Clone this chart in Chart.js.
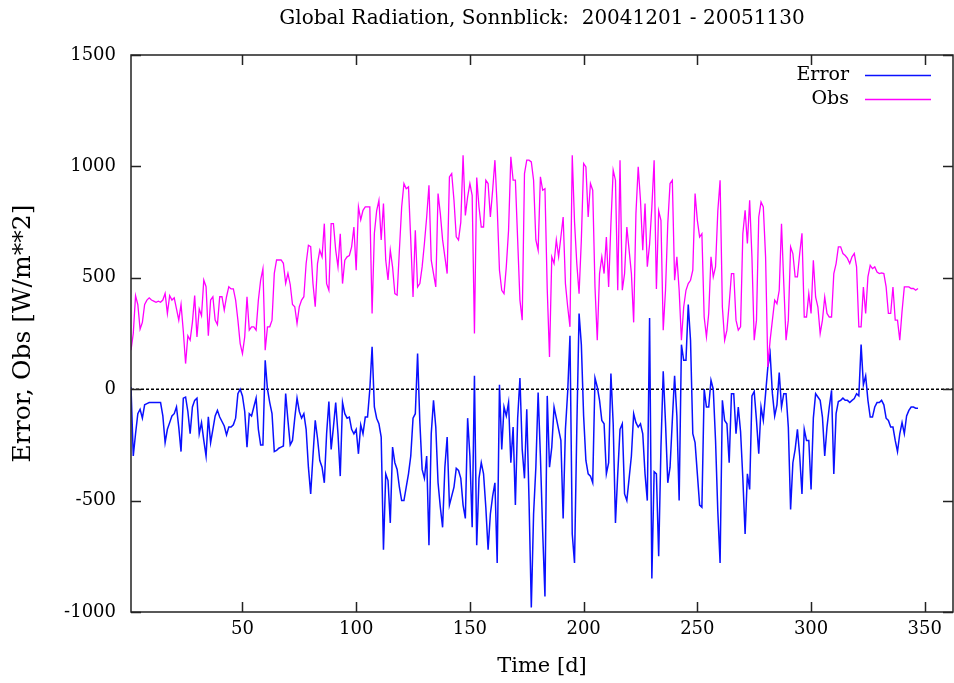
<!DOCTYPE html>
<html><head><meta charset="utf-8">
<script src="https://cdn.jsdelivr.net/npm/chart.js@4.4.0/dist/chart.umd.min.js"></script>
<style>html,body{margin:0;padding:0;background:#fff;}canvas{display:block;}</style>
</head><body>
<canvas id="c" width="954" height="683"></canvas>
<script>
// ---- data ----
const titleText = 'Global Radiation, Sonnblick:  20041201 - 20051130';
const seriesNames = ['Error', 'Obs'];
const xTickValues = [50, 100, 150, 200, 250, 300, 350];
const yTickValues = [-1000, -500, 0, 500, 1000, 1500];

const obs = [
175,250,420,380,270,300,380,400,410,400,395,390,395,390,400,430,340,420,400,410,
360,310,380,260,115,240,220,300,420,235,360,330,490,460,240,400,415,310,290,415,
415,355,415,460,450,450,400,310,205,160,235,415,265,280,280,265,400,490,541,175,
280,280,310,520,580,580,580,565,475,520,470,380,370,295,370,400,415,564,646,640,
475,370,564,624,594,743,474,444,743,743,624,549,698,474,579,594,600,639,728,534,
818,760,803,818,818,818,340,700,800,848,670,833,579,490,624,549,429,422,624,818,
923,900,908,670,414,713,459,474,549,654,773,915,579,519,459,878,788,670,594,519,
953,968,848,684,670,750,1050,780,863,923,870,250,950,818,728,728,938,923,773,893,
1028,818,534,444,429,549,713,1043,938,938,670,400,310,968,1028,1028,1020,938,670,624,
953,893,900,450,145,594,564,670,594,683,773,474,369,280,1050,750,564,429,670,1013,
998,773,923,893,459,220,519,594,519,683,459,743,983,938,444,1028,444,519,728,624,
520,300,788,998,848,624,833,550,650,818,1028,450,800,758,265,444,743,923,938,489,
594,444,220,369,444,474,489,534,878,758,683,698,324,235,340,594,504,550,800,938,
369,220,265,384,519,519,310,265,280,698,803,654,848,594,220,310,773,840,818,594,
100,220,310,400,384,444,743,474,220,310,639,609,504,504,609,700,324,324,429,340,
579,414,369,250,310,414,340,324,324,519,564,639,639,609,600,587,564,594,609,549,
280,280,459,340,504,556,541,549,526,519,522,519,459,340,340,459,310,310,220,350,
459,459,459,452,452,444,452
];

const err = [
10,-300,-200,-110,-90,-130,-70,-65,-60,-60,-60,-60,-60,-60,-120,-240,-180,-150,-120,-110,
-80,-170,-280,-40,-35,-100,-200,-80,-50,-40,-200,-150,-230,-300,-124,-240,-180,-120,-95,-125,
-145,-165,-205,-170,-170,-160,-130,-20,0,-30,-100,-260,-110,-120,-80,-40,-180,-250,-250,130,
0,-60,-110,-280,-275,-265,-260,-255,-20,-140,-250,-230,-130,-40,-100,-130,-110,-180,-350,-470,
-300,-140,-220,-320,-350,-420,-200,-55,-270,-170,-60,-200,-390,-60,-110,-130,-125,-180,-200,-180,
-290,-160,-200,-125,-125,0,190,-80,-130,-155,-215,-720,-380,-410,-600,-260,-330,-360,-440,-500,
-500,-440,-380,-300,-130,-110,160,-150,-360,-400,-300,-700,-200,-50,-170,-420,-530,-620,-350,-215,
-520,-480,-440,-355,-365,-400,-520,-580,-130,-300,-620,60,-700,-400,-330,-380,-530,-720,-560,-480,
-420,-780,20,-270,-80,-120,-60,-330,-170,-520,-130,50,-270,-400,-90,-500,-980,-560,-350,-15,
-300,-640,-930,-30,-350,-260,-80,-130,-180,-230,-580,-180,-10,240,-650,-780,-180,340,200,-120,
-320,-380,-390,-420,50,10,-50,-140,-155,-380,-330,70,-155,-600,-380,-180,-155,-470,-500,-400,
-300,-110,-150,-170,-155,-200,-380,-500,320,-850,-370,-380,-750,-260,80,-150,-420,-350,-140,60,
-120,-500,200,130,130,380,220,-200,-240,-380,-520,-530,0,-80,-80,40,0,-230,-550,-780,
-50,-140,-155,-330,-20,-20,-200,-80,-190,-400,-650,-380,-450,-30,-10,-140,-290,-80,-140,-20,
100,160,-20,-120,-70,75,-80,-20,-20,-170,-540,-330,-270,-180,-300,-470,-180,-230,-230,-450,
-130,-20,-35,-50,-125,-300,-170,-80,-5,-380,-110,-55,-50,-40,-50,-50,-60,-50,-42,-20,
-30,200,20,60,-50,-125,-125,-80,-60,-60,-50,-70,-130,-140,-170,-170,-230,-280,-200,-150,
-200,-120,-95,-80,-80,-85,-85
];

const days = obs.map((_, i) => i + 1);

// ---- styling ----
const FONT = 'DejaVu Serif';
const errColor = '#0a10ff';
const obsColor = '#ff00ff';

const framePlugin = {
  id: 'gnuFrame',
  beforeDatasetsDraw(chart) {
    const {ctx, chartArea: a, scales: {y}} = chart;
    const y0 = y.getPixelForValue(0);
    ctx.save();
    ctx.strokeStyle = '#000';
    ctx.lineWidth = 1.6;
    ctx.setLineDash([3, 2]);
    ctx.beginPath();
    ctx.moveTo(a.left, y0);
    ctx.lineTo(a.right, y0);
    ctx.stroke();
    ctx.restore();
  },
  afterDraw(chart) {
    const {ctx, chartArea: a, scales: {x, y}} = chart;
    ctx.save();
    ctx.strokeStyle = '#222';
    ctx.lineWidth = 1.5;
    ctx.setLineDash([]);
    ctx.strokeRect(a.left, a.top, a.right - a.left, a.bottom - a.top);
    const tl = 10;
    ctx.beginPath();
    xTickValues.forEach(v => {
      const px = Math.round(x.getPixelForValue(v)) + 0.5;
      ctx.moveTo(px, a.bottom); ctx.lineTo(px, a.bottom - tl);
      ctx.moveTo(px, a.top); ctx.lineTo(px, a.top + tl);
    });
    yTickValues.forEach(v => {
      const py = Math.round(y.getPixelForValue(v)) + 0.5;
      ctx.moveTo(a.left, py); ctx.lineTo(a.left + tl, py);
      ctx.moveTo(a.right, py); ctx.lineTo(a.right - tl, py);
    });
    ctx.stroke();

    // legend (gnuplot style: text, then line sample)
    const colors = [errColor, obsColor];
    ctx.font = '19px "' + FONT + '"';
    ctx.textAlign = 'right';
    ctx.textBaseline = 'middle';
    seriesNames.forEach((name, i) => {
      const ly = 75 + i * 24;
      ctx.fillStyle = '#000';
      ctx.fillText(name, 849, ly);
      ctx.strokeStyle = colors[i];
      ctx.lineWidth = 1.4;
      ctx.beginPath();
      ctx.moveTo(865, ly + 0.5);
      ctx.lineTo(931, ly + 0.5);
      ctx.stroke();
    });
    ctx.restore();
  }
};

const tickFont = {family: FONT, size: 18, weight: 'normal'};

new Chart(document.getElementById('c').getContext('2d'), {
  type: 'line',
  data: {
    datasets: [
      {label: seriesNames[0], data: days.map((d, i) => ({x: d, y: err[i]})),
       borderColor: errColor, borderWidth: 1.5, pointRadius: 0, tension: 0, order: 2, fill: false},
      {label: seriesNames[1], data: days.map((d, i) => ({x: d, y: obs[i]})),
       borderColor: obsColor, borderWidth: 1.3, pointRadius: 0, tension: 0, order: 1, fill: false}
    ]
  },
  options: {
    responsive: false,
    animation: false,
    devicePixelRatio: 1,
    layout: {padding: {left: 0, right: 1, top: 0, bottom: 0}},
    plugins: {
      legend: {display: false},
      tooltip: {enabled: false},
      title: {
        display: true, text: titleText, fullSize: false, color: '#000',
        font: {family: FONT, size: 20, weight: 'normal'},
        padding: {top: 7, bottom: 24}
      }
    },
    scales: {
      x: {
        type: 'linear', min: 1, max: 362.4,
        grid: {display: false, drawTicks: false},
        border: {display: false},
        afterBuildTicks: s => { s.ticks = xTickValues.map(v => ({value: v})); },
        afterFit: s => { s.height = 71; },
        ticks: {font: tickFont, color: '#000', padding: 7, maxRotation: 0, autoSkip: false,
                callback: v => String(v)},
        title: {display: true, text: 'Time [d]', color: '#000',
                font: {family: FONT, size: 21, weight: 'normal'}, padding: {top: 0, bottom: 4}}
      },
      y: {
        type: 'linear', min: -1000, max: 1500,
        grid: {display: false, drawTicks: false},
        border: {display: false},
        afterBuildTicks: s => { s.ticks = yTickValues.map(v => ({value: v})); },
        afterFit: s => { s.width = 131; },
        ticks: {font: tickFont, color: '#000', padding: 15, autoSkip: false,
                callback: v => String(v)},
        title: {display: true, text: 'Error, Obs [W/m**2]', color: '#000',
                font: {family: FONT, size: 25, weight: 'normal'}, padding: {top: 8, bottom: 0}}
      }
    }
  },
  plugins: [framePlugin]
});
</script>
</body></html>
